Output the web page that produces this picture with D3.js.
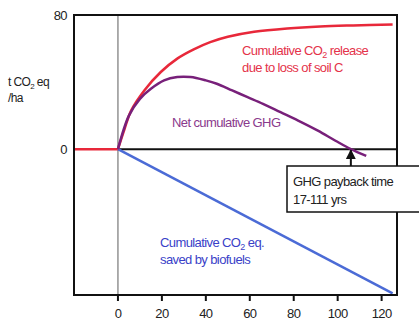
<!DOCTYPE html>
<html>
<head>
<meta charset="utf-8">
<script src="https://cdn.jsdelivr.net/npm/d3@7"></script>
<style>
  body { margin: 0; background: #fff; }
  svg { display: block; font-family: "Liberation Sans", Arial, sans-serif; }
  text { letter-spacing: -0.6px; }
</style>
</head>
<body>
<svg id="chart" width="419" height="322"></svg>
<script>
// values (years, t CO2 eq / ha)
const releaseYears = [0, 3, 6, 12, 19.5, 27, 34.5, 42, 50, 62, 77, 92, 107, 125];
const releaseVals  = [0, 12, 23, 35, 46, 54, 59.5, 63.8, 67, 70, 72, 73.2, 73.8, 74.3];
const netYears = [0, 5, 10, 15, 21, 27, 33, 40, 45, 52, 59, 66, 74, 82, 91, 99, 106, 113];
const netVals  = [0, 20, 30, 36, 41, 43, 43, 41, 39, 35, 31, 27, 22, 17, 11, 5, 0, -4];
const savedYears = [0, 125];
const savedVals  = [0, -86];
const xTicks = [0, 20, 40, 60, 80, 100, 120];
const yLabels = [0, 80];

const svg = d3.select("svg#chart");

const x = d3.scaleLinear().domain([-20, 127]).range([74, 397]);
const y = d3.scaleLinear().domain([-87, 80]).range([295, 15]);

const line = d3.line()
               .x(d => x(d[0]))
               .y(d => y(d[1]))
               .curve(d3.curveCatmullRom.alpha(0.5));

// vertical line at year 0
svg.append("line")
   .attr("x1", x(0)).attr("x2", x(0))
   .attr("y1", y(80)).attr("y2", y(-87))
   .attr("stroke", "#777").attr("stroke-width", 1.2);

// zero line
svg.append("line")
   .attr("x1", x(0)).attr("x2", x(127))
   .attr("y1", y(0)).attr("y2", y(0))
   .attr("stroke", "#111").attr("stroke-width", 2);

// x ticks under the axis
svg.append("g")
   .selectAll("line")
   .data(xTicks)
   .join("line")
   .attr("x1", d => x(d)).attr("x2", d => x(d))
   .attr("y1", y(-87)).attr("y2", y(-87) + 6)
   .attr("stroke", "#111").attr("stroke-width", 2);

svg.append("g")
   .selectAll("text")
   .data(xTicks)
   .join("text")
   .attr("x", d => x(d))
   .attr("y", 318)
   .attr("text-anchor", "middle")
   .attr("font-size", 13)
   .attr("fill", "#222")
   .text(d => d);

svg.append("g")
   .selectAll("text")
   .data(yLabels)
   .join("text")
   .attr("x", 67)
   .attr("y", d => y(d) + 5)
   .attr("text-anchor", "end")
   .attr("font-size", 13)
   .attr("fill", "#222")
   .text(d => d);

// series
const zip = (a, b) => a.map((v, i) => [v, b[i]]);

svg.append("path")
   .attr("d", line([[-20, 0], [0, 0]]))
   .attr("fill", "none").attr("stroke", "#e8283a").attr("stroke-width", 2.5);

svg.append("path")
   .attr("d", line(zip(savedYears, savedVals)))
   .attr("fill", "none").attr("stroke", "#4b6bd6").attr("stroke-width", 2.5);

svg.append("path")
   .attr("d", line(zip(releaseYears, releaseVals)))
   .attr("fill", "none").attr("stroke", "#e8283a").attr("stroke-width", 2.5);

svg.append("path")
   .attr("d", line(zip(netYears, netVals)))
   .attr("fill", "none").attr("stroke", "#78207a").attr("stroke-width", 2.5);

// frame
svg.append("rect")
   .attr("x", x(-20)).attr("y", y(80))
   .attr("width", x(127) - x(-20)).attr("height", y(-87) - y(80))
   .attr("fill", "none").attr("stroke", "#111").attr("stroke-width", 2);

// y axis title
const ytitle = svg.append("text").attr("x", 8).attr("y", 86).attr("font-size", 12).attr("fill", "#222");
ytitle.append("tspan").text("t CO");
ytitle.append("tspan").attr("font-size", 8).attr("dy", 3).text("2");
ytitle.append("tspan").attr("dy", -3).text(" eq");
svg.append("text").attr("x", 8).attr("y", 102).attr("font-size", 12).attr("fill", "#222").text("/ha");

// series labels
function subLabel(xp, yp, color, before, after) {
  const t = svg.append("text").attr("x", xp).attr("y", yp).attr("font-size", 13).attr("fill", color);
  t.append("tspan").text(before);
  t.append("tspan").attr("font-size", 9).attr("dy", 3).text("2");
  t.append("tspan").attr("dy", -3).text(after);
}
subLabel(242, 55, "#e4324a", "Cumulative CO", " release");
svg.append("text").attr("x", 242).attr("y", 72).attr("font-size", 13).attr("fill", "#e4324a")
   .text("due to loss of soil C");

svg.append("text").attr("x", 172).attr("y", 127).attr("font-size", 13).attr("fill", "#8a3a8c")
   .text("Net cumulative GHG");

subLabel(160, 247, "#3a3fc8", "Cumulative CO", " eq.");
svg.append("text").attr("x", 160).attr("y", 264).attr("font-size", 13).attr("fill", "#3a3fc8")
   .text("saved by biofuels");

// payback callout
const payback = 106;
svg.append("defs").append("marker")
   .attr("id", "arrow").attr("viewBox", "0 0 10 10")
   .attr("refX", 9).attr("refY", 5)
   .attr("markerWidth", 5).attr("markerHeight", 5)
   .attr("orient", "auto")
   .append("path").attr("d", "M0,0L10,5L0,10z").attr("fill", "#111");

svg.append("line")
   .attr("x1", x(payback)).attr("x2", x(payback))
   .attr("y1", 166).attr("y2", y(0) + 1)
   .attr("stroke", "#111").attr("stroke-width", 2)
   .attr("marker-end", "url(#arrow)");

svg.append("rect")
   .attr("x", 287).attr("y", 166).attr("width", 140).attr("height", 46)
   .attr("fill", "#fff").attr("stroke", "#111").attr("stroke-width", 1.5);
svg.append("text").attr("x", 293).attr("y", 186).attr("font-size", 13).attr("fill", "#222")
   .text("GHG payback time");
svg.append("text").attr("x", 293).attr("y", 204).attr("font-size", 13).attr("fill", "#222")
   .text("17-111 yrs");
</script>
</body>
</html>
